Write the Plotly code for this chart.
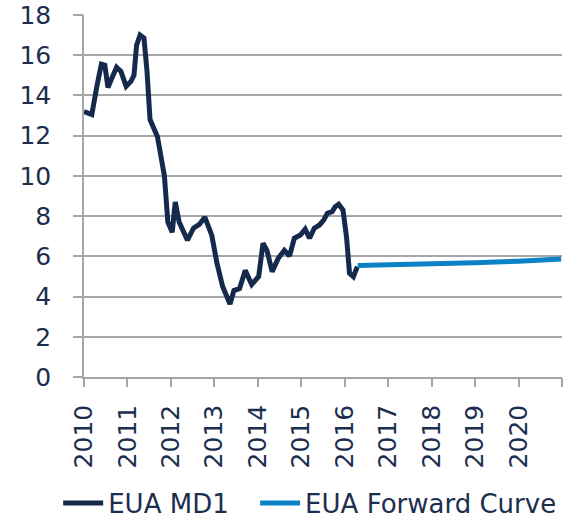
import plotly.graph_objects as go

# EUA MD1 (decimal year, price EUR/t)
md1_x = [2010.0, 2010.18, 2010.3, 2010.4, 2010.48, 2010.55, 2010.65, 2010.75, 2010.85, 2010.97,
         2011.08, 2011.15, 2011.21, 2011.29, 2011.38, 2011.45, 2011.52, 2011.69, 2011.85, 2011.93,
         2012.03, 2012.1, 2012.19, 2012.3, 2012.38, 2012.52, 2012.66, 2012.78, 2012.94, 2013.06,
         2013.19, 2013.36, 2013.45, 2013.58, 2013.71, 2013.86, 2014.02, 2014.12, 2014.21, 2014.33,
         2014.47, 2014.61, 2014.73, 2014.84, 2014.98, 2015.09, 2015.19, 2015.3, 2015.42, 2015.52,
         2015.6, 2015.71, 2015.78, 2015.86, 2015.96, 2016.04, 2016.11, 2016.2, 2016.29]
md1_y = [13.2, 13.05, 14.5, 15.55, 15.5, 14.4, 14.9, 15.4, 15.2, 14.45,
         14.7, 15.0, 16.5, 17.0, 16.85, 15.2, 12.8, 11.95, 10.0, 7.7,
         7.2, 8.7, 7.7, 7.1, 6.8, 7.4, 7.6, 7.95, 7.05, 5.66,
         4.5, 3.63, 4.3, 4.4, 5.3, 4.6, 5.0, 6.65, 6.3, 5.24,
         5.9, 6.3, 6.02, 6.9, 7.06, 7.35, 6.9, 7.4, 7.56, 7.81,
         8.14, 8.22, 8.47, 8.59, 8.31, 6.98, 5.16, 4.99, 5.49]

# EUA forward curve
fwd_x = [2016.3, 2017.0, 2018.0, 2019.0, 2020.0, 2020.98]
fwd_y = [5.55, 5.57, 5.62, 5.68, 5.76, 5.87]

year_ticks = list(range(2010, 2022))
year_labels = [str(y) if y < 2021 else "" for y in year_ticks]
y_ticks = list(range(0, 19, 2))

navy = "#14294b"
blue = "#0b82c6"
grid = "#a6a6a6"
txt = "#1c2e4e"
font = "DejaVu Sans"
clear = "rgba(0,0,0,0)"

fig = go.Figure()
fig.add_trace(go.Scatter(x=md1_x, y=md1_y, mode="lines", name="EUA MD1",
                         line=dict(color=navy, width=5), legend="legend"))
fig.add_trace(go.Scatter(x=fwd_x, y=fwd_y, mode="lines", name="EUA Forward Curve",
                         line=dict(color=blue, width=5), legend="legend2",
                         xaxis="x2", yaxis="y2"))

leg_common = dict(orientation="h", xanchor="left", y=-0.348, yanchor="middle",
                  font=dict(family=font, size=26, color=txt), itemwidth=40,
                  bgcolor=clear)
fig.update_layout(
    width=568, height=525,
    margin=dict(l=84, r=6, t=15, b=148, autoexpand=False),
    paper_bgcolor="white", plot_bgcolor="white",
    font=dict(family=font, size=25, color=txt),
    showlegend=True,
    legend=dict(x=-0.054, **leg_common),
    legend2=dict(x=0.358, **leg_common),
    # labelled axes: transparent long ticks push the labels away from the axis lines
    xaxis=dict(range=[2010, 2021], tickmode="array", tickvals=year_ticks, ticktext=year_labels,
               tickangle=-90, showgrid=False, showline=True, linecolor=grid, linewidth=1.5,
               ticks="outside", ticklen=16, tickcolor=clear, tickwidth=1.5, zeroline=False,
               ticklabeloverflow="allow", automargin=False,
               tickfont=dict(family=font, size=25, color=txt)),
    yaxis=dict(range=[0, 18], tickmode="array", tickvals=y_ticks, showgrid=True, gridcolor=grid,
               gridwidth=1.5, showline=True, linecolor=grid, linewidth=1.5, ticks="outside",
               ticklen=26, tickcolor=clear, tickwidth=1.5, zeroline=False,
               ticklabeloverflow="allow", automargin=False,
               tickfont=dict(family=font, size=25, color=txt)),
    # overlay axes drawing the short visible tick marks
    xaxis2=dict(range=[2010, 2021], overlaying="x", side="bottom", anchor="y2", tickmode="array",
                tickvals=year_ticks, showgrid=False, showline=False, showticklabels=False,
                ticks="outside", ticklen=9, tickcolor=grid, tickwidth=1.5, zeroline=False,
                automargin=False),
    yaxis2=dict(range=[0, 18], overlaying="y", side="left", anchor="x2", tickmode="array",
                tickvals=y_ticks, showgrid=False, showline=False, showticklabels=False,
                ticks="outside", ticklen=10, tickcolor=grid, tickwidth=1.5, zeroline=False,
                automargin=False),
)

fig.write_html("out.html", config={"displayModeBar": False},
               post_script="document.body.style.margin='0px';")
